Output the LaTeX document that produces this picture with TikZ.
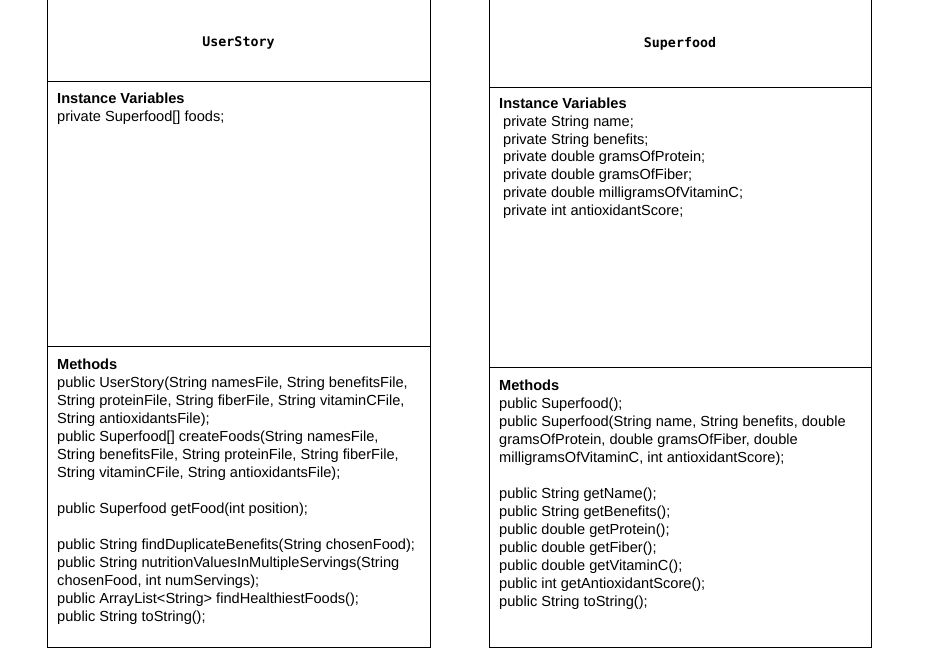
\documentclass[tikz,border=0pt]{standalone}
\usepackage{fontspec}
\setmainfont{Liberation Sans}
\newfontfamily\titlefont{DejaVu Sans Mono}
\tikzset{
  txt/.style={anchor=base west,inner sep=0pt,font=\fontsize{14.6}{16}\selectfont},
  hdr/.style={txt,font=\fontsize{14.6}{16}\selectfont\bfseries},
  ttl/.style={anchor=base,inner sep=0pt,font=\titlefont\bfseries\fontsize{13.3}{16}\selectfont},
  boxline/.style={line width=1pt,draw=black}
}
\begin{document}
\begin{tikzpicture}[x=1pt,y=-1pt]
\useasboundingbox (0,0) rectangle (945,648);
% left class box
\coordinate (LTL) at (47,-3);
\coordinate (LBL) at (47,647);
\coordinate (LBR) at (430,647);
\coordinate (LTR) at (430,-3);
\draw[boxline] (LTL) -- (LBL) -- (LBR) -- (LTR);
\draw[boxline] (47,81) -- (430,81);
\draw[boxline] (47,346) -- (430,346);
% right class box
\coordinate (RTL) at (489,-3);
\coordinate (RBL) at (489,647);
\coordinate (RBR) at (871,647);
\coordinate (RTR) at (871,-3);
\draw[boxline] (RTL) -- (RBL) -- (RBR) -- (RTR);
\draw[boxline] (489,87) -- (871,87);
\draw[boxline] (489,367) -- (871,367);
% titles
\node[ttl] (t1) at (238.5,46.5) {UserStory};
\node[ttl] (t2) at (680,47.8) {Superfood};
% left instance variables
\node[hdr] (liv) at (57,103.5) {Instance Variables};
\node[txt] (liv1) at (57,121.5) {private Superfood[] foods;};
% right instance variables
\node[hdr] (riv) at (499,108.5) {Instance Variables};
\foreach \i/\t in {1/{private String name;},2/{private String benefits;},3/{private double gramsOfProtein;},4/{private double gramsOfFiber;},5/{private double milligramsOfVitaminC;},6/{private int antioxidantScore;}}
  \node[txt] (riv\i) at (503,108.5+17.8*\i) {\t};
% left methods
\node[hdr] (lm) at (57,369) {Methods};
\foreach \i/\t in {1/{public UserStory(String namesFile, String benefitsFile,},
  2/{String proteinFile, String fiberFile, String vitaminCFile,},
  3/{String antioxidantsFile);},
  4/{public Superfood[] createFoods(String namesFile,},
  5/{String benefitsFile, String proteinFile, String fiberFile,},
  6/{String vitaminCFile, String antioxidantsFile);},
  8/{public Superfood getFood(int position);},
  10/{public String findDuplicateBenefits(String chosenFood);},
  11/{public String nutritionValuesInMultipleServings(String},
  12/{chosenFood, int numServings);},
  13/{public ArrayList<String> findHealthiestFoods();},
  14/{public String toString();}}
  \node[txt] (lm\i) at (57,369+18*\i) {\t};
% right methods
\node[hdr] (rm) at (499,390) {Methods};
\foreach \i/\t in {1/{public Superfood();},
  2/{public Superfood(String name, String benefits, double},
  3/{gramsOfProtein, double gramsOfFiber, double},
  4/{milligramsOfVitaminC, int antioxidantScore);},
  6/{public String getName();},
  7/{public String getBenefits();},
  8/{public double getProtein();},
  9/{public double getFiber();},
  10/{public double getVitaminC();},
  11/{public int getAntioxidantScore();},
  12/{public String toString();}}
  \node[txt] (rm\i) at (499,390+18*\i) {\t};
\end{tikzpicture}
\end{document}
